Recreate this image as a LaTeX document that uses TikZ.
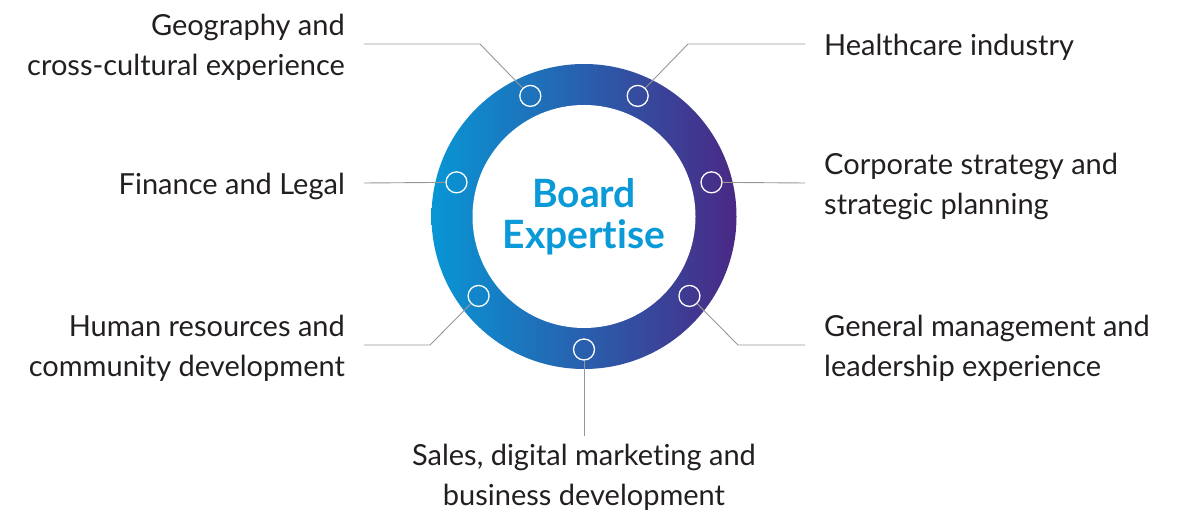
\documentclass[tikz,border=0pt]{standalone}
\usepackage{fontspec}
\setmainfont{Lato}[Ligatures=CommonOff]
\usetikzlibrary{positioning}
\definecolor{ringleft}{HTML}{0896D5}
\definecolor{ringright}{HTML}{4A2885}
\definecolor{titleblue}{HTML}{0A9AD8}
\definecolor{textdark}{HTML}{231F20}
\definecolor{linegray}{HTML}{979797}
\tikzset{
  lbl/.style={inner sep=0pt, yshift=-3pt, text=textdark, font=\fontsize{29}{40}\selectfont},
  dot/.style={circle, draw=white, line width=1.3pt, minimum size=21pt, inner sep=0pt},
  conn/.style={draw=linegray, line width=0.9pt}
}

\begin{document}
\begin{tikzpicture}[x=1pt, y=1pt]
    \useasboundingbox (0,0) rectangle (1189,513);
    % Ring
    \coordinate (C) at (584,296.5);
    \shade[left color=ringleft, right color=ringright] (C) circle (152.5);
    \fill[white] (C) circle (111.5);
    \node[font=\bfseries\fontsize{39}{41}\selectfont, text=titleblue, align=center] (board) at (C) {Board\\Expertise};

    % Dots on the ring
    \node[dot] (dgeo) at ([shift={(114:132)}]C) {};
    \node[dot] (dhealth) at ([shift={(66:132)}]C) {};
    \node[dot] (dfin) at ([shift={(165:132)}]C) {};
    \node[dot] (dcorp) at ([shift={(15:132)}]C) {};
    \node[dot] (dhr) at ([shift={(217:132)}]C) {};
    \node[dot] (dgen) at ([shift={(323:132)}]C) {};
    \node[dot] (dsales) at ([shift={(270:133)}]C) {};

    % Line ends and bends
    \coordinate (geoend) at (364,469);
    \coordinate (geobend) at (480,469);
    \coordinate (healthend) at (805,469);
    \coordinate (healthbend) at (688,469);
    \coordinate (finend) at (364,330);
    \coordinate (corpend) at (805,330);
    \coordinate (hrend) at (364,168);
    \coordinate (hrbend) at (430,168);
    \coordinate (genend) at (805,168);
    \coordinate (genbend) at (738,168);
    \coordinate (salesend) at (584,77);

    % Labels
    \node[lbl, align=right, left=19pt of geoend] (geo) {Geography and\\cross-cultural experience};
    \node[lbl, align=left, right=19pt of healthend] (health) {Healthcare industry};
    \node[lbl, align=right, left=19pt of finend] (fin) {Finance and Legal};
    \node[lbl, align=left, right=19pt of corpend] (corp) {Corporate strategy and\\strategic planning};
    \node[lbl, align=right, left=19pt of hrend] (hr) {Human resources and\\community development};
    \node[lbl, align=left, right=19pt of genend] (gen) {General management and\\leadership experience};
    \node[lbl, align=center, below=5pt of salesend] (sales) {Sales, digital marketing and\\business development};

    % Connectors
    \draw[conn] (dgeo) -- (geobend) -- (geoend);
    \draw[conn] (dhealth) -- (healthbend) -- (healthend);
    \draw[conn] (dfin) -- (finend);
    \draw[conn] (dcorp) -- (corpend);
    \draw[conn] (dhr) -- (hrbend) -- (hrend);
    \draw[conn] (dgen) -- (genbend) -- (genend);
    \draw[conn] (dsales) -- (salesend);
\end{tikzpicture}
\end{document}
